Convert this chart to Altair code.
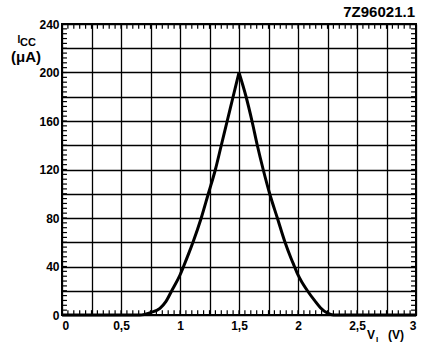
import altair as alt
import pandas as pd

# curve I_CC (uA) versus V_I (V): rising branch and falling branch (share the peak)
vi_rise = [0, 0.5, 0.66, 0.75, 0.83, 0.88, 0.93, 1.0, 1.03, 1.075, 1.11, 1.18, 1.24,
           1.30, 1.35, 1.40, 1.45, 1.50]
icc_rise = [0, 0, 0, 2, 5.5, 11, 20, 33, 40, 51, 60, 80, 100,
            120, 140, 160, 180, 200]
vi_fall = [1.50, 1.56, 1.61, 1.655, 1.705, 1.76, 1.825, 1.89, 1.94, 1.97, 2.0,
           2.04, 2.08, 2.14, 2.19, 2.25, 2.3, 2.5, 3.0]
icc_fall = [200, 180, 160, 140, 120, 100, 80, 60, 47, 40, 33,
            26, 20, 12, 6, 1.5, 0, 0, 0]

x_grid = [i * 0.25 for i in range(13)]
y_grid = [i * 20 for i in range(13)]
x_minor = [round(i * 0.05, 2) for i in range(61)]
y_minor = [i * 4 for i in range(61)]
X_MAX, Y_MAX = 3, 240
TICK_Y, TICK_X = 4, 0.042  # minor tick length in data units

FONT = "Liberation Sans"

curve_df = pd.DataFrame({
    "vi": vi_rise + vi_fall,
    "icc": icc_rise + icc_fall,
    "branch": ["rise"] * len(vi_rise) + ["fall"] * len(vi_fall),
})

xscale = alt.Scale(domain=[0, X_MAX], nice=False, zero=False)
yscale = alt.Scale(domain=[0, Y_MAX], nice=False, zero=False)

xaxis = alt.Axis(
    values=x_grid, grid=True, gridColor="black", gridWidth=1.3, gridOpacity=1,
    ticks=False, domain=False, title=None, labelPadding=5, labelOverlap=False,
    labelFont=FONT, labelFontSize=12, labelFontWeight="bold", labelColor="black",
    labelExpr="(datum.value * 2) % 1 == 0 ? replace(format(datum.value, ''), '.', ',') : ''",
)
yaxis = alt.Axis(
    values=y_grid, grid=True, gridColor="black", gridWidth=1.3, gridOpacity=1,
    ticks=False, domain=False, title=None, labelPadding=3, labelOverlap=False,
    labelFont=FONT, labelFontSize=12, labelFontWeight="bold", labelColor="black",
    labelExpr="datum.value % 40 == 0 ? datum.label : ''",
)

curve = alt.Chart(curve_df).mark_line(
    color="black", strokeWidth=3, interpolate="monotone"
).encode(
    x=alt.X("vi:Q", scale=xscale, axis=xaxis),
    y=alt.Y("icc:Q", scale=yscale, axis=yaxis),
    detail="branch:N",
)

tick_style = dict(color="black", strokeWidth=1.2)

def xticks(base, end):
    df = pd.DataFrame({"m": x_minor, "a": base, "b": end})
    return alt.Chart(df).mark_rule(**tick_style).encode(
        x=alt.X("m:Q", scale=xscale, axis=xaxis),
        y=alt.Y("a:Q", scale=yscale, axis=yaxis), y2="b:Q")

def yticks(base, end):
    df = pd.DataFrame({"m": y_minor, "a": base, "b": end})
    return alt.Chart(df).mark_rule(**tick_style).encode(
        y=alt.Y("m:Q", scale=yscale, axis=yaxis),
        x=alt.X("a:Q", scale=xscale, axis=xaxis), x2="b:Q")

minor = [
    xticks(0, TICK_Y), xticks(Y_MAX, Y_MAX - TICK_Y),
    yticks(0, TICK_X), yticks(X_MAX, X_MAX - TICK_X),
]

def label(text, x, y, size, align="center", weight="bold"):
    return alt.Chart(pd.DataFrame({"t": [text]})).mark_text(
        font=FONT, fontSize=size, fontWeight=weight, align=align,
        baseline="middle", color="black",
    ).encode(text="t:N", x=alt.value(x), y=alt.value(y))

texts = [
    label("7Z96021.1", 353, -12, 15, align="right"),
    label("I", -43, 16, 10),
    label("CC", -34, 19, 11),
    label("(\u03bcA)", -36, 33, 15),
    label("V", 309, 311, 12),
    label("I", 315, 316, 8),
    label("(V)", 334, 311, 12),
]

chart = alt.layer(curve, *minor, *texts).properties(
    width=354, height=291,
    padding={"left": 62, "top": 24, "right": 8, "bottom": 30},
    autosize=alt.AutoSizeParams(type="none"),
    background="white",
).configure_view(stroke="black", strokeWidth=2)

chart.save("out.html", embed_options={"renderer": "svg", "actions": False})
